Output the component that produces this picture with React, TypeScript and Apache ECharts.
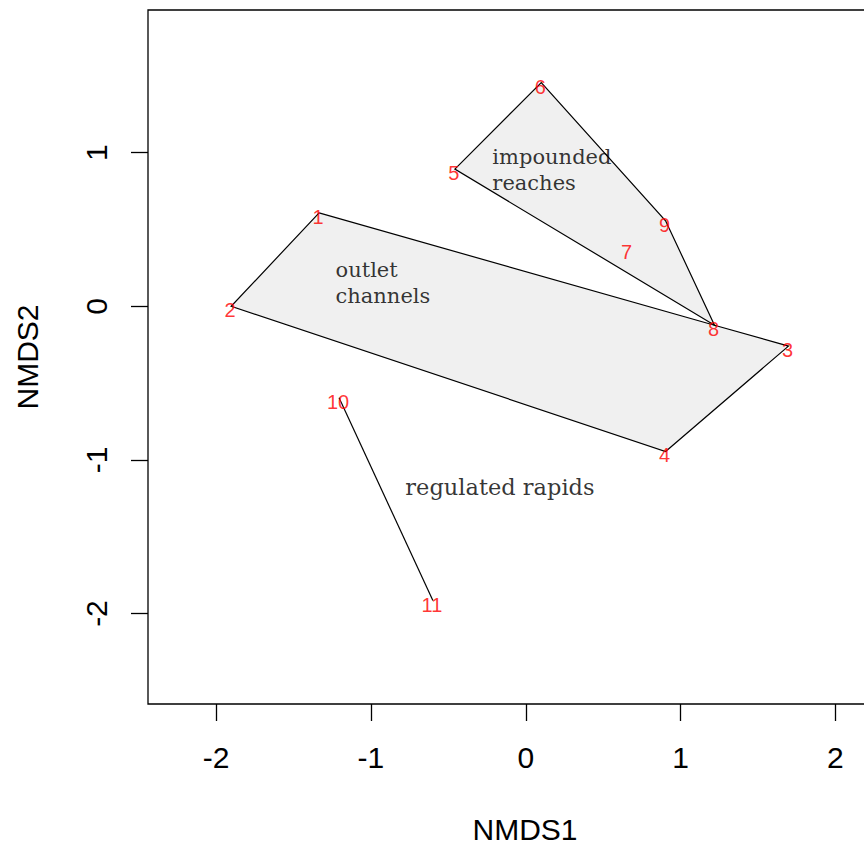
import { useEffect, useRef } from "react";
import * as echarts from "echarts";

// NMDS site scores
const siteIds = ["1", "2", "3", "4", "5", "6", "7", "8", "9", "10", "11"];
const nmds1 = [-1.335, -1.903, 1.697, 0.903, -0.458, 0.1, 0.658, 1.219, 0.903, -1.206, -0.6];
const nmds2 = [0.608, 0.0, -0.259, -0.945, 0.893, 1.456, 0.382, -0.123, 0.557, -0.595, -1.916];

// Convex hulls per reach type (site ids, in drawing order)
const outletHull = [1, 8, 3, 4, 2];
const impoundedHull = [5, 6, 9, 8];
const rapidsLink = [10, 11];

// Group annotations
const groupNames = ["impounded\nreaches", "outlet\nchannels", "regulated rapids"];
const groupX = [-0.219, -1.232, -0.781];
const groupY = [0.89, 0.155, -1.178];
const groupFontSize = [21, 21, 22.5];

const xTicks = [-2, -1, 0, 1, 2];
const yTicks = [-2, -1, 0, 1];

const sansFont = "'Liberation Sans', Arial, sans-serif";
const serifFont = "'DejaVu Serif', serif";

const siteCoord = (id: number) => [nmds1[id - 1], nmds2[id - 1]];

function hullSeries(ids: number[], closed: boolean) {
  return {
    type: "custom",
    silent: true,
    z: 1,
    data: ids.map((id) => siteCoord(id)),
    renderItem: (params: any, api: any) => {
      if (params.dataIndex !== 0) return null;
      const pts = ids.map((id) => api.coord(siteCoord(id)));
      if (closed) {
        return {
          type: "polygon",
          shape: { points: pts },
          style: { fill: "#f0f0f0", stroke: "#000", lineWidth: 1.2 },
        };
      }
      return {
        type: "polyline",
        shape: { points: pts },
        style: { fill: null, stroke: "#000", lineWidth: 1.2 },
      };
    },
  };
}

export default function App() {
  const ref = useRef<HTMLDivElement>(null);

  useEffect(() => {
    if (!ref.current) return;
    const chart = echarts.init(ref.current, null, { renderer: "svg" });

    const option = {
      animation: false,
      backgroundColor: "#ffffff",
      grid: {
        left: 148,
        top: 10,
        width: 754,
        height: 698,
        show: true,
        borderColor: "#000",
        borderWidth: 1.3,
        backgroundColor: "transparent",
      },
      xAxis: {
        type: "value",
        min: -2.44,
        max: 2.43,
        splitLine: { show: false },
        axisLine: { show: false, onZero: false },
        axisTick: {
          show: true,
          length: 17,
          customValues: xTicks,
          lineStyle: { color: "#000", width: 1.3 },
        },
        axisLabel: {
          customValues: xTicks,
          margin: 38,
          fontSize: 30,
          color: "#000",
          fontFamily: sansFont,
        },
        name: "NMDS1",
        nameLocation: "middle",
        nameGap: 110,
        nameTextStyle: { fontSize: 30, color: "#000", fontFamily: sansFont },
      },
      yAxis: {
        type: "value",
        min: -2.589,
        max: 1.929,
        splitLine: { show: false },
        axisLine: { show: false, onZero: false },
        axisTick: {
          show: true,
          length: 17,
          customValues: yTicks,
          lineStyle: { color: "#000", width: 1.3 },
        },
        axisLabel: {
          customValues: yTicks,
          rotate: 90,
          margin: 37,
          fontSize: 30,
          color: "#000",
          fontFamily: sansFont,
        },
        name: "NMDS2",
        nameLocation: "middle",
        nameGap: 106,
        nameTextStyle: { fontSize: 30, color: "#000", fontFamily: sansFont },
      },
      series: [
        hullSeries(outletHull, true),
        hullSeries(impoundedHull, true),
        hullSeries(rapidsLink, false),
        {
          type: "scatter",
          silent: true,
          z: 3,
          symbolSize: 1,
          itemStyle: { color: "transparent" },
          data: siteIds.map((id, i) => ({ value: [nmds1[i], nmds2[i]], name: id })),
          label: {
            show: true,
            position: "inside",
            offset: [-1, 4],
            formatter: (p: any) => p.name,
            color: "#ff0000",
            fontSize: 20,
            fontFamily: sansFont,
          },
        },
        {
          type: "scatter",
          silent: true,
          z: 3,
          symbolSize: 1,
          itemStyle: { color: "transparent" },
          data: groupNames.map((g, i) => ({
            value: [groupX[i], groupY[i]],
            name: g,
            label: { fontSize: groupFontSize[i] },
          })),
          label: {
            show: true,
            position: "right",
            distance: 0,
            align: "left",
            verticalAlign: "middle",
            formatter: (p: any) => p.name,
            color: "#000",
            lineHeight: 26,
            fontFamily: serifFont,
          },
        },
      ],
    };

    chart.setOption(option as any);
    return () => chart.dispose();
  }, []);

  // The plot frame runs past the right edge of the page, so the chart is
  // wider than its clipping wrapper.
  return (
    <div
      style={{
        position: "absolute",
        left: 0,
        top: 0,
        width: 864,
        height: 849,
        overflow: "hidden",
      }}
    >
      <div ref={ref} style={{ width: 910, height: 849 }} />
    </div>
  );
}
